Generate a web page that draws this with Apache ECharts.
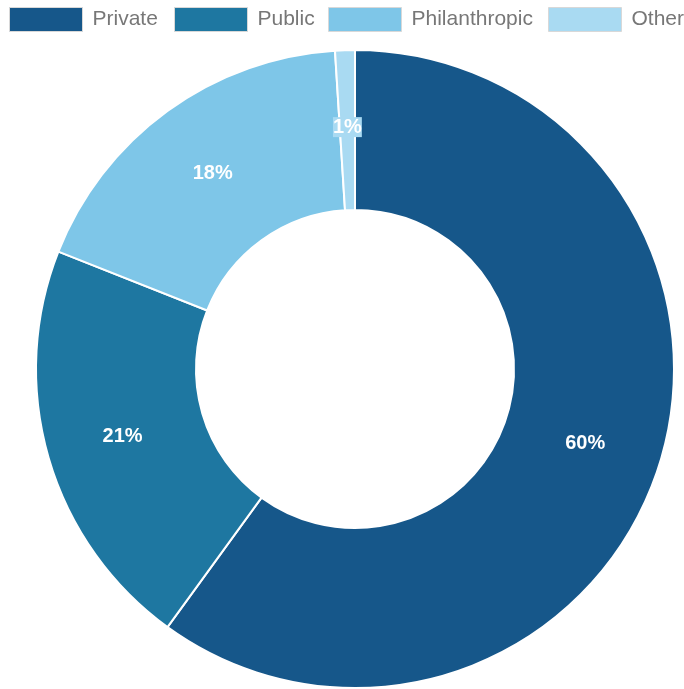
<!DOCTYPE html>
<html>
<head>
<meta charset="utf-8">
<script src="https://cdn.jsdelivr.net/npm/echarts@6/dist/echarts.min.js"></script>
<style>html,body{margin:0;padding:0;background:#fff;}#c{width:684px;height:689px;}</style>
</head>
<body>
<div id="c"></div>
<script>
const categories = ['Private', 'Public', 'Philanthropic', 'Other'];
const values = [60, 21, 18, 1];
const colors = ['#16578a', '#1e77a1', '#7ec6e8', '#a9daf2'];
const legendLefts = [9, 174, 328, 548];

const chart = echarts.init(document.getElementById('c'));
const data = categories.map((name, i) => {
  const d = { name: name, value: values[i], itemStyle: { color: colors[i] } };
  if (i === 3) d.label = { backgroundColor: colors[i] };
  return d;
});
const legends = categories.map((name, i) => ({
  top: 7,
  left: legendLefts[i],
  padding: 0,
  itemWidth: 73,
  itemHeight: 24,
  icon: 'rect',
  itemStyle: { borderColor: '#d8d8d8', borderWidth: 1 },
  textStyle: { fontFamily: 'Liberation Sans, Arial, sans-serif', fontSize: 21, color: '#777', padding: [0, 0, 0, 5] },
  data: [name]
}));
chart.setOption({
  animation: false,
  color: colors,
  legend: legends,
  series: [{
    type: 'pie',
    center: [355, 369],
    radius: [159, 319],
    startAngle: 90,
    clockwise: true,
    avoidLabelOverlap: false,
    itemStyle: { borderColor: '#fff', borderWidth: 2 },
    label: {
      show: true,
      position: 'inside',
      formatter: p => Math.round(p.percent) + '%',
      color: '#fff',
      fontFamily: 'Liberation Sans, Arial, sans-serif',
      fontSize: 20,
      fontWeight: 'bold'
    },
    labelLine: { show: false },
    emphasis: { disabled: true },
    data: data
  }]
});
</script>
</body>
</html>
